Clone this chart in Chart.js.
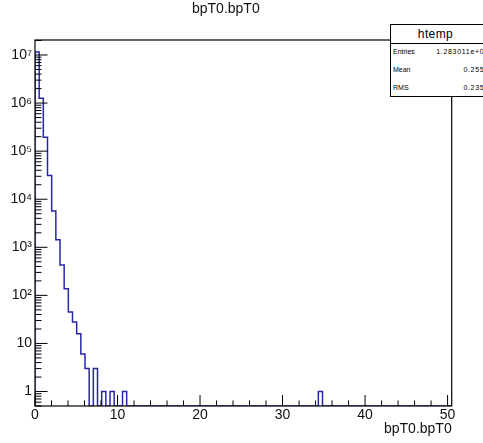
<!DOCTYPE html>
<html>
<head>
<meta charset="utf-8">
<script src="https://cdn.jsdelivr.net/npm/chart.js@4.4.0/dist/chart.umd.min.js"></script>
<style>
html,body{margin:0;padding:0;background:#fff;overflow:hidden;}
#wrap{position:relative;width:483px;height:443px;overflow:hidden;background:#fff;}
#c{position:absolute;left:0;top:0;}
#stats{position:absolute;left:390px;top:24px;width:110px;height:73px;border:1px solid #000;border-bottom-width:1.5px;background:#fff;box-sizing:border-box;font-family:"Liberation Sans",Arial,sans-serif;color:#000;}
#stats .ttl{position:absolute;left:0;top:0;width:89px;height:18px;line-height:18px;text-align:center;font-size:12px;letter-spacing:0.4px;}
#stats .sep{position:absolute;left:0;top:18px;width:110px;height:0;border-top:1px solid #000;}
#stats .row{position:absolute;left:0;width:98px;height:12px;line-height:12px;font-size:7px;}
#stats .lab{position:absolute;left:2px;top:0;}
#stats .val{position:absolute;right:0;top:0;letter-spacing:0.7px;}
</style>
</head>
<body>
<div id="wrap">
<canvas id="c" width="483" height="443"></canvas>
<div id="stats">
  <div class="ttl">htemp</div>
  <div class="sep"></div>
  <div class="row" style="top:21px"><span class="lab">Entries</span><span class="val">1.283011e+07</span></div>
  <div class="row" style="top:39px"><span class="lab">Mean</span><span class="val">0.2558</span></div>
  <div class="row" style="top:57px"><span class="lab">RMS</span><span class="val">0.2353</span></div>
</div>
</div>
<script>
// ---- data (100 bins over 0 .. 50.5) ----
const xMin = 0;
const xMax = 50.5;
const nBins = 100;
const yMin = 0.5;
const yMax = 2.05e7;
const counts = [
  11500000, 1260000, 195000, 31000, 5700, 1430, 430, 137, 45, 28,
  16, 6, 3, 0, 3, 0, 1, 0, 1, 0,
  0, 1, 0, 0, 0, 0, 0, 0, 0, 0,
  0, 0, 0, 0, 0, 0, 0, 0, 0, 0,
  0, 0, 0, 0, 0, 0, 0, 0, 0, 0,
  0, 0, 0, 0, 0, 0, 0, 0, 0, 0,
  0, 0, 0, 0, 0, 0, 0, 0, 1, 0,
  0, 0, 0, 0, 0, 0, 0, 0, 0, 0,
  0, 0, 0, 0, 0, 0, 0, 0, 0, 0,
  0, 0, 0, 0, 0, 0, 0, 0, 0, 0
];
const xTickValues = [0, 10, 20, 30, 40, 50];
const xTickLabels = ['0', '10', '20', '30', '40', '50'];
const yTickValues = [1, 10, 100, 1e3, 1e4, 1e5, 1e6, 1e7];
const yTickLabels = ['1', '10', '10\u00B2', '10\u00B3', '10\u2074', '10\u2075', '10\u2076', '10\u2077'];
const titleText = 'bpT0.bpT0';
const xTitleText = 'bpT0.bpT0';

const FAMILY = '"Liberation Sans", Arial, Helvetica, sans-serif';

// histogram outline (ROOT "hist" style step line)
const binWidth = (xMax - xMin) / nBins;
const outline = [{x: xMin, y: yMin}];
counts.forEach((c, i) => {
  const v = c > 0 ? c : yMin;
  outline.push({x: xMin + i * binWidth, y: v});
  outline.push({x: xMin + (i + 1) * binWidth, y: v});
});
outline.push({x: xMax, y: yMin});

const rootFrame = {
  id: 'rootFrame',
  afterDatasetsDraw(chart) {
    const {ctx, chartArea: a, scales: {x, y}} = chart;
    ctx.save();
    ctx.strokeStyle = '#000';
    ctx.lineWidth = 1;
    ctx.beginPath();
    for (let v = 0; v <= 50; v += 2) {
      const px = x.getPixelForValue(v);
      const len = (v % 10 === 0) ? 11 : 5.5;
      ctx.moveTo(px, a.bottom);
      ctx.lineTo(px, a.bottom - len);
    }
    for (let e = -1; e <= 7; e++) {
      for (let k = 1; k <= 9; k++) {
        const v = k * Math.pow(10, e);
        if (v < yMin || v > yMax) continue;
        const py = y.getPixelForValue(v);
        const len = k === 1 ? 12.5 : 6.5;
        ctx.moveTo(a.left, py);
        ctx.lineTo(a.left + len, py);
      }
    }
    ctx.stroke();
    ctx.lineWidth = 1.2;
    ctx.strokeRect(a.left, a.top, a.right - a.left, a.bottom - a.top);
    ctx.restore();
  }
};

new Chart(document.getElementById('c'), {
  type: 'scatter',
  data: {
    datasets: [{
      data: outline,
      showLine: true,
      borderColor: '#2626ad',
      borderWidth: 1.5,
      pointRadius: 0,
      tension: 0,
      fill: false
    }]
  },
  options: {
    responsive: false,
    animation: false,
    devicePixelRatio: 1,
    layout: {padding: {left: 0, right: 31.3, top: 0, bottom: 0}},
    plugins: {
      legend: {display: false},
      tooltip: {enabled: false},
      title: {
        display: true,
        text: titleText,
        color: '#111',
        font: {family: FAMILY, size: 14, weight: 'normal'},
        padding: {top: 0.6, bottom: 22.6}
      }
    },
    scales: {
      x: {
        type: 'linear',
        min: xMin,
        max: xMax,
        grid: {display: false, drawTicks: false},
        border: {display: false},
        afterBuildTicks: s => { s.ticks = xTickValues.map(v => ({value: v})); },
        afterFit: s => { s.height = 37; },
        ticks: {
          padding: 1,
          color: '#111',
          font: {family: FAMILY, size: 14},
          maxRotation: 0,
          autoSkip: false,
          callback: (v, i) => xTickLabels[i]
        },
        title: {
          display: true,
          text: xTitleText,
          align: 'end',
          color: '#111',
          font: {family: FAMILY, size: 14},
          padding: {top: 0, bottom: 5.4}
        }
      },
      y: {
        type: 'logarithmic',
        min: yMin,
        max: yMax,
        grid: {display: false, drawTicks: false},
        border: {display: false},
        afterBuildTicks: s => { s.ticks = yTickValues.map(v => ({value: v})); },
        afterFit: s => { s.width = 35; },
        ticks: {
          padding: 3,
          color: '#111',
          font: {family: FAMILY, size: 14},
          autoSkip: false,
          callback: (v, i) => yTickLabels[i]
        }
      }
    }
  },
  plugins: [rootFrame]
});
</script>
</body>
</html>
